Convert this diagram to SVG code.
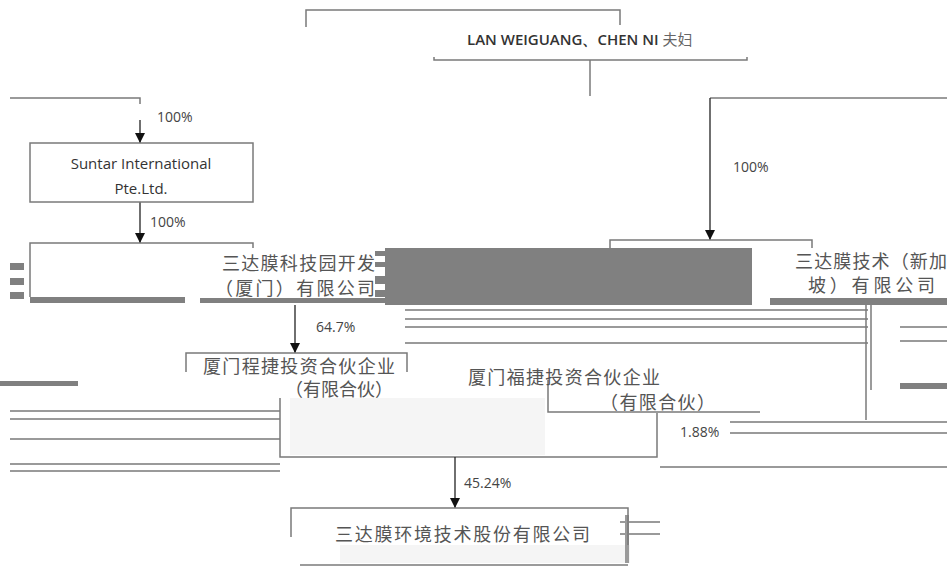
<svg xmlns="http://www.w3.org/2000/svg" width="947" height="578" viewBox="0 0 947 578">
<style>
.ln{stroke:#7a7a7a;stroke-width:1.5;fill:none}
.bx{stroke:#7a7a7a;stroke-width:1.5;fill:none}
.en{font-family:"Open Sans","Liberation Sans",Arial,sans-serif;font-size:15px;fill:#333}
.cn{font-family:"Liberation Serif","Noto Sans CJK SC",serif;font-size:18px;fill:#555}
.pct{font-family:"Open Sans","Liberation Sans",Arial,sans-serif;font-size:14px;fill:#444}
.ar{stroke:#222;stroke-width:1.3;fill:none}
.gr{fill:#808080}
.gl{fill:#9a9a9a}
</style>
<defs>
<marker id="arr" markerWidth="10" markerHeight="10" refX="10" refY="5" orient="auto" markerUnits="userSpaceOnUse" viewBox="0 0 10 10">
<path d="M0,0 L10,5 L0,10 Z" fill="#111"/>
</marker>
</defs>
<rect width="947" height="578" fill="#fff"/>

<g id="artifacts">
<rect class="gr" x="385" y="248" width="367" height="57"/>
<rect class="gr" x="10" y="263" width="14" height="7"/>
<rect class="gr" x="10" y="278" width="14" height="7"/>
<rect class="gr" x="10" y="292" width="14" height="7"/>
<rect class="gr" x="375" y="251" width="35" height="5"/>
<rect class="gr" x="375" y="262" width="35" height="5"/>
<rect class="gr" x="375" y="276" width="35" height="8"/>
<rect class="gr" x="375" y="290" width="35" height="7"/>
<rect class="gr" x="30" y="297" width="155" height="6"/>
<rect class="gr" x="200" y="298" width="205" height="5"/>
<rect class="gr" x="770" y="298" width="177" height="7"/>
<rect class="gl" x="405" y="309" width="463" height="2"/>
<rect class="gl" x="405" y="318" width="463" height="2"/>
<rect class="gl" x="405" y="326" width="463" height="2"/>
<rect class="gl" x="405" y="342" width="463" height="2"/>
<rect class="gl" x="900" y="326" width="47" height="2"/>
<rect class="gl" x="900" y="340" width="47" height="2"/>
<rect class="gr" x="0" y="381" width="78" height="5"/>
<rect class="gr" x="900" y="383" width="47" height="6"/>
<rect class="gl" x="10" y="410" width="270" height="2"/>
<rect class="gl" x="10" y="418" width="270" height="2"/>
<rect class="gl" x="10" y="438" width="270" height="2"/>
<rect class="gl" x="10" y="463" width="270" height="2"/>
<rect class="gl" x="10" y="470" width="270" height="2"/>
<rect class="gl" x="730" y="421" width="217" height="2"/>
<rect class="gl" x="730" y="432" width="217" height="2"/>
<rect class="gl" x="660" y="466" width="287" height="2"/>
<rect class="gl" x="620" y="521" width="40" height="2"/>
<rect class="gl" x="620" y="533" width="40" height="2"/>
<rect fill="#f5f5f5" x="290" y="398" width="255" height="57"/>
<rect fill="#f5f5f5" x="340" y="545" width="290" height="18"/>
<rect class="gl" x="625" y="515" width="4" height="48"/>
</g>

<g id="connectors">
<polyline class="ln" points="590,60 590,96"/>
<polyline class="ln" points="10,98 140,98 140,104"/>
<line class="ar" x1="140" y1="120" x2="140" y2="143" marker-end="url(#arr)"/>
<polyline class="ln" points="947,98 710,98"/>
<line class="ar" x1="710" y1="98" x2="710" y2="240" marker-end="url(#arr)"/>
<line class="ar" x1="140" y1="202" x2="140" y2="243" marker-end="url(#arr)"/>
<line class="ar" x1="295" y1="305" x2="295" y2="353" marker-end="url(#arr)"/>
<polyline class="ln" points="866,305 866,420"/>
<polyline class="ln" points="871,305 871,390"/>
<polyline class="ln" points="280,398 280,457 657,457 657,413"/>
<line class="ar" x1="455" y1="457" x2="455" y2="508" marker-end="url(#arr)"/>
<text class="pct" x="157" y="122">100%</text>
<text class="pct" x="733" y="172">100%</text>
<text class="pct" x="150" y="227">100%</text>
<text class="pct" x="316" y="332">64.7%</text>
<text class="pct" x="680" y="437">1.88%</text>
<text class="pct" x="464" y="488">45.24%</text>
</g>

<g id="node-lan-chen">
<polyline class="bx" points="306,27 306,10 620,10 620,25"/>
<polyline class="bx" points="434,57 434,60 747,60 747,57"/>
<text x="467" y="45" font-family="Open Sans,Liberation Sans,Arial,sans-serif" font-size="15" font-weight="600" fill="#333">LAN WEIGUANG、CHEN NI <tspan font-family="Noto Sans CJK SC,sans-serif" font-weight="normal" fill="#666">夫妇</tspan></text>
</g>

<g id="node-suntar-intl">
<rect class="bx" x="30" y="143" width="223" height="59"/>
<text class="en" x="141" y="169" text-anchor="middle">Suntar International</text>
<text class="en" x="141" y="194" text-anchor="middle">Pte.Ltd.</text>
</g>

<g id="node-park-xiamen">
<polyline class="bx" points="30,297 30,243 253,243 253,248"/>
<text class="cn" x="222" y="270" textLength="153">三达膜科技园开发</text>
<text class="cn" x="215" y="295" textLength="160">（厦门）有限公司</text>
</g>

<g id="node-sg">
<polyline class="bx" points="610,248 610,240 812,240 812,248"/>
<text class="cn" x="795" y="268" textLength="152">三达膜技术（新加</text>
<text class="cn" x="808" y="292" textLength="127">坡）有限公司</text>
</g>

<g id="node-chengjie">
<polyline class="bx" points="186,372 186,353 407,353 407,372"/>
<text class="cn" x="203" y="373" textLength="192">厦门程捷投资合伙企业</text>
<text class="cn" x="285" y="396" font-size="13">（有限合伙）</text>
</g>

<g id="node-fujie">
<polyline class="bx" points="548,380 548,412 760,412"/>
<text class="cn" x="468" y="384" textLength="192" fill="#6a6a8a">厦门福捷投资合伙企业</text>
<text class="cn" x="600" y="409" textLength="115">（有限合伙）</text>
</g>

<g id="node-suntar-env">
<polyline class="bx" points="291,537 291,508 628,508 628,545"/>
<line class="bx" x1="300" y1="565" x2="628" y2="565"/>
<text class="cn" x="335" y="541" textLength="255">三达膜环境技术股份有限公司</text>
</g>
</svg>
